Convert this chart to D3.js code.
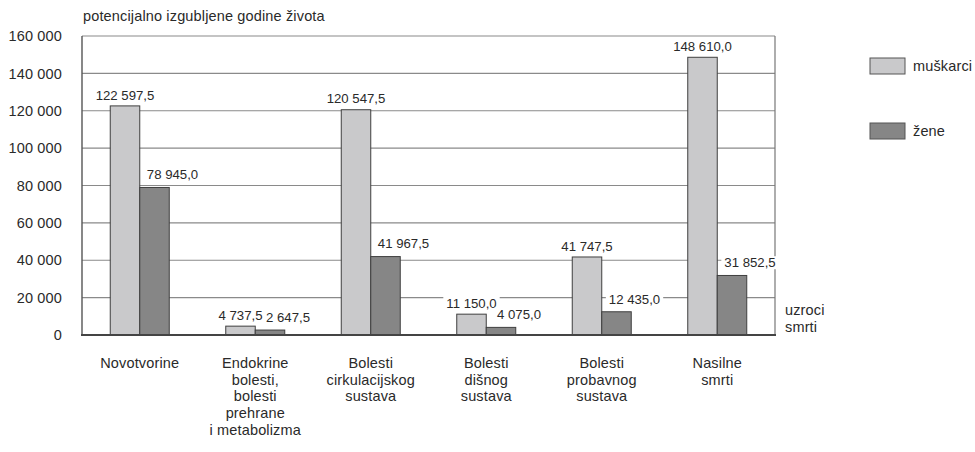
<!DOCTYPE html>
<html>
<head>
<meta charset="utf-8">
<script src="https://cdn.jsdelivr.net/npm/d3@7"></script>
<style>
  html, body { margin: 0; padding: 0; background: #fff; }
  svg { display: block; font-family: "Liberation Sans", Arial, sans-serif; }
  text { fill: #2a2a2a; }
</style>
</head>
<body>
<svg id="chart" width="975" height="452"></svg>
<script>
// Potencijalno izgubljene godine života po uzrocima smrti
const categories = [
  ["Novotvorine"],
  ["Endokrine", "bolesti,", "bolesti", "prehrane", "i metabolizma"],
  ["Bolesti", "cirkulacijskog", "sustava"],
  ["Bolesti", "dišnog", "sustava"],
  ["Bolesti", "probavnog", "sustava"],
  ["Nasilne", "smrti"]
];
const seriesNames = ["muškarci", "žene"];
const muskarci = [122597.5, 4737.5, 120547.5, 11150.0, 41747.5, 148610.0];
const zene = [78945.0, 2647.5, 41967.5, 4075.0, 12435.0, 31852.5];
const yTicks = [0, 20000, 40000, 60000, 80000, 100000, 120000, 140000, 160000];
const yTitle = "potencijalno izgubljene godine života";
const xTitle = ["uzroci", "smrti"];

const colors = ["#c9c9cb", "#868686"];
const fmtThousands = v => d3.format(",")(v).replace(/,/g, " ");
const fmtValue = v => d3.format(",.1f")(v).replace(/,/g, " ").replace(".", ",");

const FS = 14.5, LS = 0.15;

const svg = d3.select("#chart");
const m = { left: 82, right: 775, top: 36, bottom: 335 };

const x0 = d3.scaleBand().domain(d3.range(categories.length)).range([m.left, m.right]).padding(0);
const y = d3.scaleLinear().domain([0, 160000]).range([m.bottom, m.top]);

// gridlines
svg.append("g")
  .selectAll("line").data(yTicks.filter(t => t > 0)).join("line")
  .attr("x1", m.left).attr("x2", m.right)
  .attr("y1", d => y(d)).attr("y2", d => y(d))
  .attr("stroke", "#8a8a8a").attr("stroke-width", 1.2);

// frame sides
svg.append("line").attr("x1", m.left).attr("x2", m.left).attr("y1", m.top).attr("y2", m.bottom)
  .attr("stroke", "#555").attr("stroke-width", 1.4);
svg.append("line").attr("x1", m.right).attr("x2", m.right).attr("y1", m.top).attr("y2", m.bottom)
  .attr("stroke", "#777").attr("stroke-width", 1.2);

// y-axis tick labels
const yAxis = d3.axisLeft(y).tickValues(yTicks).tickSize(0).tickPadding(20).tickFormat(fmtThousands);
const ya = svg.append("g").attr("transform", `translate(${m.left},0)`).call(yAxis);
ya.select(".domain").remove();
ya.selectAll("text").attr("font-size", FS).attr("letter-spacing", LS).attr("fill", "#2a2a2a").attr("font-family", null);

// y title
svg.append("text").attr("x", m.left + 1).attr("y", 21).attr("font-size", FS).attr("letter-spacing", LS).text(yTitle);

// bars
const data = categories.map((c, i) => [muskarci[i], zene[i]]);
const groups = svg.append("g").selectAll("g").data(data).join("g")
  .attr("transform", (d, i) => `translate(${x0(i)},0)`);

const bw = 29.5;
const barX = s => x0.bandwidth() / 2 + (s === 0 ? -bw : 0);

groups.selectAll("rect").data(d => d.map((v, s) => ({ v, s }))).join("rect")
  .attr("x", d => barX(d.s))
  .attr("y", d => y(d.v))
  .attr("width", bw)
  .attr("height", d => y(0) - y(d.v))
  .attr("fill", d => colors[d.s])
  .attr("stroke", "#3f3f3f").attr("stroke-width", 1);

// baseline
svg.append("line").attr("x1", m.left - 1).attr("x2", m.right + 1).attr("y1", m.bottom).attr("y2", m.bottom)
  .attr("stroke", "#444").attr("stroke-width", 2);

// value labels on a white backing
const labels = groups.selectAll("g.lbl").data(d => d.map((v, s) => ({ v, s }))).join("g").attr("class", "lbl")
  .attr("transform", d => {
    const cx = barX(d.s) + bw / 2 + (d.s === 1 ? 18 : 0);
    const cy = y(d.v) - (d.s === 1 ? 13 : 11);
    return `translate(${cx},${cy})`;
  });
labels.append("text")
  .attr("text-anchor", "middle").attr("dy", "0.36em").attr("font-size", 13.2)
  .text(d => fmtValue(d.v));
labels.each(function () {
  const g = d3.select(this);
  const bb = g.select("text").node().getBBox();
  g.insert("rect", "text")
    .attr("x", bb.x - 3).attr("y", bb.y + 1).attr("width", bb.width + 6).attr("height", bb.height - 2)
    .attr("fill", "#fff");
});

// category labels
groups.append("text").attr("class", "cat")
  .attr("x", x0.bandwidth() / 2).attr("y", 368)
  .attr("text-anchor", "middle").attr("font-size", FS).attr("letter-spacing", LS)
  .selectAll("tspan").data((d, i) => categories[i]).join("tspan")
  .attr("x", x0.bandwidth() / 2)
  .attr("dy", (c, k) => k === 0 ? 0 : 16.7)
  .text(c => c);

// x title
svg.append("text").attr("x", 785).attr("y", 315).attr("font-size", FS).attr("letter-spacing", LS)
  .selectAll("tspan").data(xTitle).join("tspan")
  .attr("x", 785).attr("dy", (c, k) => k === 0 ? 0 : 17).text(c => c);

// legend
const lg = svg.append("g").selectAll("g").data(seriesNames).join("g")
  .attr("transform", (d, i) => `translate(870,${66 + i * 65})`);
lg.append("rect").attr("x", 0).attr("y", -8).attr("width", 35).attr("height", 16)
  .attr("fill", (d, i) => colors[i]).attr("stroke", "#555").attr("stroke-width", 1);
lg.append("text").attr("x", 43).attr("dy", "0.36em").attr("font-size", FS).attr("letter-spacing", LS).text(d => d);
</script>
</body>
</html>
